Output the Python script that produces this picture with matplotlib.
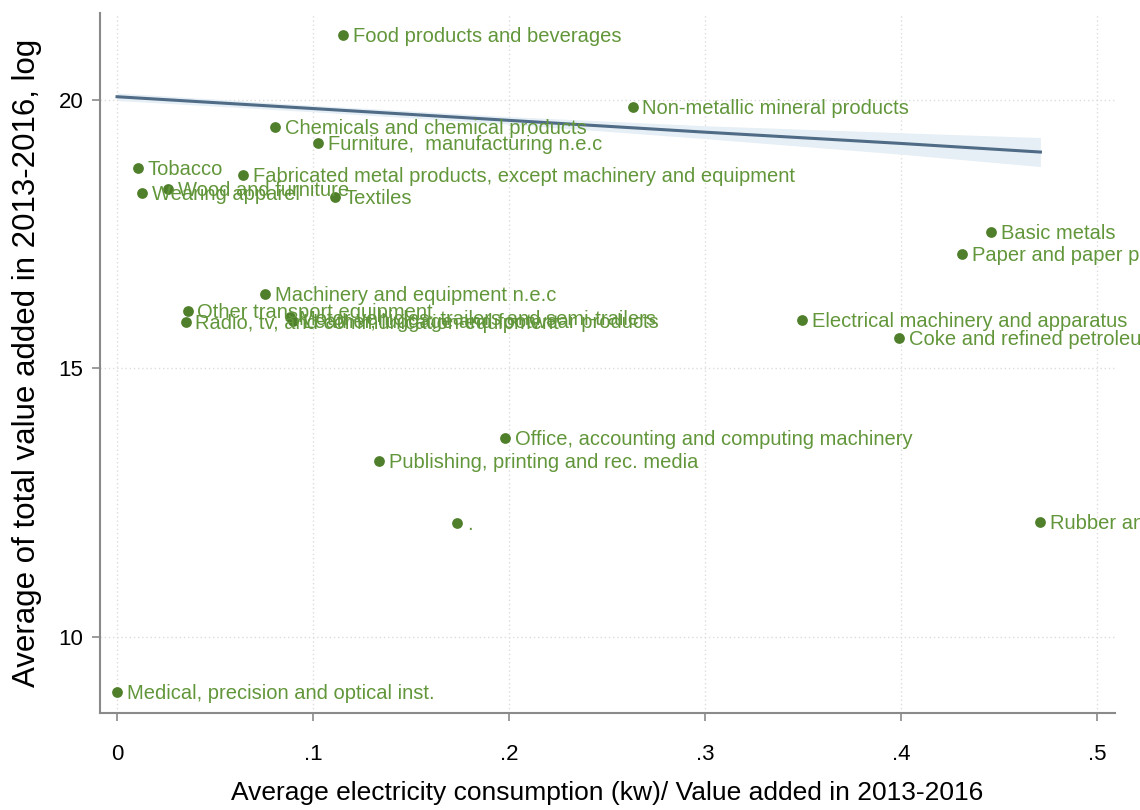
import matplotlib.pyplot as plt
import numpy as np

plt.rcParams['font.family'] = ['Liberation Sans', 'DejaVu Sans']

# Industry-level data: electricity intensity vs. log value added (2013-2016 averages)
industries = [
    "Food products and beverages",
    "Non-metallic mineral products",
    "Chemicals and chemical products",
    "Furniture,  manufacturing n.e.c",
    "Tobacco",
    "Fabricated metal products, except machinery and equipment",
    "Wood and furniture",
    "Wearing apparel",
    "Textiles",
    "Basic metals",
    "Paper and paper products",
    "Machinery and equipment n.e.c",
    "Other transport equipment",
    "Radio, tv, and communication equipment",
    "Motor vehicles, trailers and semi-trailers",
    "Leather, luggage and footwear products",
    "Electrical machinery and apparatus",
    "Coke and refined petroleum",
    "Office, accounting and computing machinery",
    "Publishing, printing and rec. media",
    ".",
    "Rubber and plastics products",
    "Medical, precision and optical inst.",
]
elec_intensity = [
    0.1153, 0.263, 0.0806, 0.1026, 0.0107, 0.0643, 0.026, 0.0128, 0.111,
    0.446, 0.431, 0.0755, 0.036, 0.035, 0.088, 0.090, 0.3495, 0.399,
    0.198, 0.1337, 0.1735, 0.471, 0.0,
]
log_value_added = [
    21.21, 19.87, 19.50, 19.20, 18.73, 18.60, 18.34, 18.27, 18.19,
    17.54, 17.13, 16.39, 16.07, 15.87, 15.95, 15.88, 15.90, 15.57,
    13.71, 13.28, 12.12, 12.14, 8.98,
]

# Fitted line and its confidence band
fit_x = [0.0, 0.1, 0.2, 0.3, 0.4, 0.471]
fit_y = [20.06, 19.84, 19.62, 19.40, 19.19, 19.03]
fit_halfwidth = [0.07, 0.06, 0.07, 0.12, 0.20, 0.27]

x_ticks = [0, 0.1, 0.2, 0.3, 0.4, 0.5]
x_tick_labels = ["0", ".1", ".2", ".3", ".4", ".5"]
y_ticks = [10, 15, 20]

fig = plt.figure(figsize=(11.4, 8.1), dpi=100)
ax = fig.add_axes([0.0877, 0.1198, 0.8903, 0.8642])

fx = np.array(fit_x)
fy = np.array(fit_y)
hw = np.array(fit_halfwidth)
ax.fill_between(fx, fy - hw, fy + hw, color='#e6eff5', lw=0, zorder=1)
ax.plot(fx, fy, color='#4f6b86', lw=2.2, zorder=2)

green_dot = '#4f7f2b'
green_txt = '#62963a'
ax.scatter(elec_intensity, log_value_added, s=60, color=green_dot,
           zorder=3, linewidths=0)
for xi, yi, lab in zip(elec_intensity, log_value_added, industries):
    ax.annotate(lab, (xi, yi), xytext=(7, -1), textcoords='offset points',
                ha='left', va='center', fontsize=14.5, color=green_txt,
                zorder=4, annotation_clip=False)

ax.set_xlim(-0.0087, 0.509)
ax.set_ylim(8.585, 21.62)
ax.set_xticks(x_ticks)
ax.set_xticklabels(x_tick_labels)
ax.set_yticks(y_ticks)
ax.tick_params(axis='both', labelsize=16, color='#8a8a8a', length=6, width=1.2)
ax.tick_params(axis='y', pad=6)
ax.tick_params(axis='x', pad=16)

ax.grid(True, color='#dcdcdc', linestyle=(0, (1, 2)), lw=1)
ax.set_axisbelow(True)
for side in ['top', 'right']:
    ax.spines[side].set_visible(False)
for side in ['left', 'bottom']:
    ax.spines[side].set_color('#8a8a8a')
    ax.spines[side].set_linewidth(1.5)

ax.set_xlabel("Average electricity consumption (kw)/ Value added in 2013-2016",
              fontsize=19, labelpad=12)
ax.set_ylabel("Average of total value added in 2013-2016, log",
              fontsize=22.5, labelpad=12)

fig.savefig('out.png', dpi=100)
